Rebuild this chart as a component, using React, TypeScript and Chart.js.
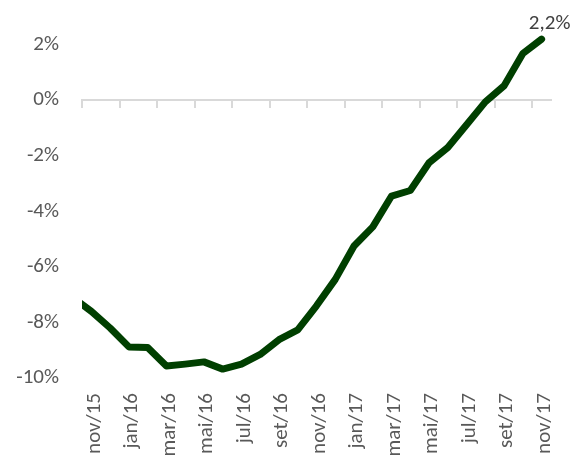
import React, { useEffect, useRef } from "react";
import { Chart, registerables } from "chart.js";

Chart.register(...registerables);

// Month labels; the first one sits just off the left edge of the plot
const MONTHS = [
  "out/15", "nov/15", "dez/15", "jan/16", "fev/16", "mar/16", "abr/16",
  "mai/16", "jun/16", "jul/16", "ago/16", "set/16", "out/16", "nov/16",
  "dez/16", "jan/17", "fev/17", "mar/17", "abr/17", "mai/17", "jun/17",
  "jul/17", "ago/17", "set/17", "out/17", "nov/17",
];

// Year-on-year change, %
const VALUES = [
  -7.1, -7.6, -8.2, -8.88, -8.9, -9.57, -9.5, -9.42, -9.68, -9.5, -9.15,
  -8.62, -8.27, -7.4, -6.45, -5.25, -4.56, -3.45, -3.25, -2.25, -1.7,
  -0.88, -0.06, 0.52, 1.68, 2.2,
];

const Y_TICKS = [-10, -8, -6, -4, -2, 0, 2];

const FONT = "Calibri, Carlito, Lato, sans-serif";
const FONT_SIZE = 21;
const LINE_COLOR = "#003f00";
const AXIS_GREY = "#d9d9d9";

const lastValueLabel = {
  id: "lastValueLabel",
  afterDatasetsDraw(chart: any) {
    const meta = chart.getDatasetMeta(0);
    const i = VALUES.length - 1;
    const pt = meta.data[i];
    if (!pt) return;
    const ctx = chart.ctx;
    ctx.save();
    ctx.font = `${FONT_SIZE}px ${FONT}`;
    ctx.fillStyle = "#404040";
    ctx.textAlign = "center";
    ctx.textBaseline = "alphabetic";
    const text = VALUES[i].toFixed(1).replace(".", ",") + "%";
    ctx.fillText(text, pt.x + 8, pt.y - 10);
    ctx.restore();
  },
};

// keep the plot rectangle exactly where the layout puts it
const noEdgePadding = (s: any) => {
  s.paddingTop = 0;
  s.paddingBottom = 0;
  s.paddingLeft = 0;
  s.paddingRight = 0;
};

export default function App() {
  const ref = useRef<HTMLCanvasElement | null>(null);

  useEffect(() => {
    if (!ref.current) return;
    const tickMarkColor = (c: any) => (c.index % 2 === 0 ? AXIS_GREY : "rgba(0,0,0,0)");
    const chart = new Chart(ref.current, {
      type: "line",
      data: {
        labels: MONTHS,
        datasets: [
          {
            data: VALUES,
            xAxisID: "x",
            yAxisID: "y",
            borderColor: LINE_COLOR,
            backgroundColor: LINE_COLOR,
            borderWidth: 7,
            borderJoinStyle: "round",
            borderCapStyle: "round",
            pointRadius: 0,
            pointHoverRadius: 0,
            tension: 0,
            clip: { left: 0, top: false, right: false, bottom: false } as any,
          },
        ],
      },
      options: {
        responsive: false,
        animation: false,
        devicePixelRatio: 1,
        layout: { padding: { top: 28, right: 25, left: 0, bottom: 0 } },
        plugins: { legend: { display: false }, tooltip: { enabled: false } },
        scales: {
          x: {
            type: "category",
            position: "bottom",
            min: "nov/15",
            offset: true,
            grid: { display: false, drawTicks: false },
            border: { display: false },
            ticks: {
              autoSkip: false,
              minRotation: 90,
              maxRotation: 90,
              padding: 15,
              labelOffset: 3,
              color: "#595959",
              font: { family: FONT, size: FONT_SIZE },
              callback: function (this: any, value: any, index: number) {
                return index % 2 === 0 ? this.getLabelForValue(value) : "";
              },
            },
            afterFit: (s: any) => {
              s.height = 86;
              noEdgePadding(s);
            },
          },
          x2: {
            type: "category",
            position: { y: 0 } as any,
            min: "nov/15",
            offset: true,
            grid: {
              display: true,
              offset: true,
              drawOnChartArea: false,
              drawTicks: true,
              tickLength: 7,
              lineWidth: 2,
              color: tickMarkColor,
              tickColor: tickMarkColor,
            },
            border: { display: true, color: AXIS_GREY, width: 2 },
            ticks: { display: false, autoSkip: false },
            afterFit: (s: any) => {
              s.height = 0;
              noEdgePadding(s);
            },
          },
          y: {
            type: "linear",
            min: -10,
            max: 2.6,
            grid: { display: false, drawTicks: false },
            border: { display: false },
            afterBuildTicks: (s: any) => {
              s.ticks = Y_TICKS.map((v) => ({ value: v }));
            },
            ticks: {
              padding: 23,
              color: "#595959",
              font: { family: FONT, size: FONT_SIZE },
              callback: (v: any) => `${v}%`,
            },
            afterFit: (s: any) => {
              s.width = 82;
              noEdgePadding(s);
            },
          },
        },
      },
      plugins: [lastValueLabel],
    });
    return () => chart.destroy();
  }, []);

  return (
    <div style={{ position: "fixed", left: 0, top: 0, width: 576, height: 464, background: "#fff" }}>
      <canvas ref={ref} width={576} height={464} />
    </div>
  );
}
